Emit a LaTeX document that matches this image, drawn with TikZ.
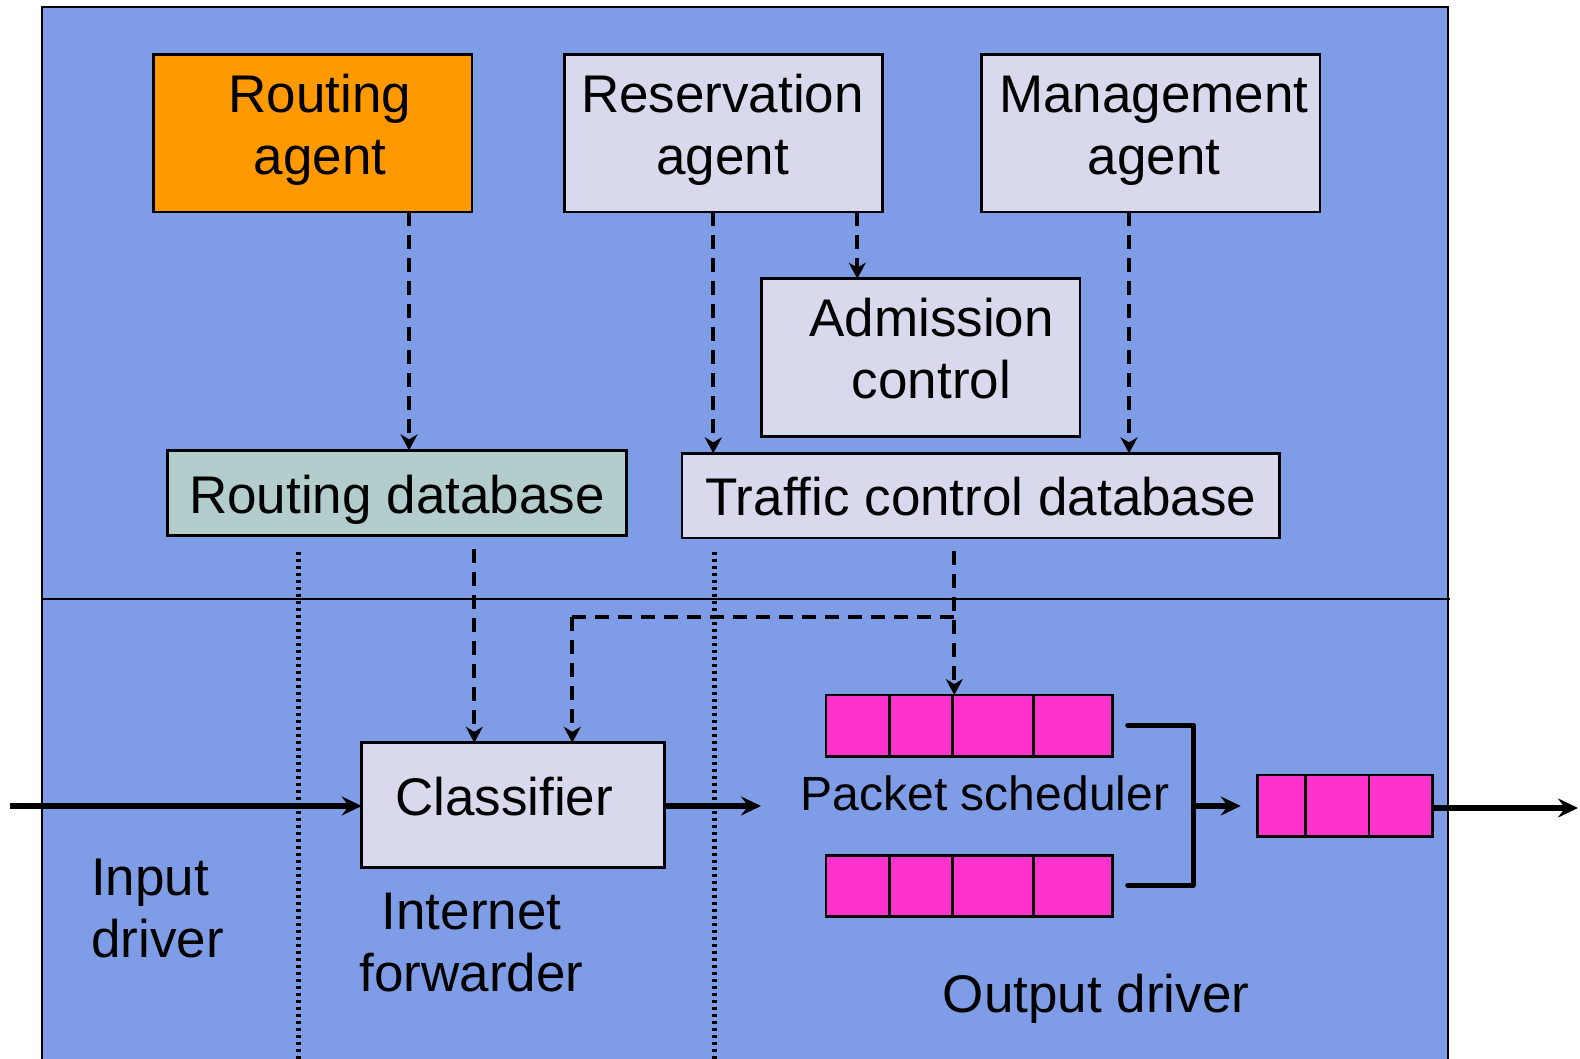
\documentclass[tikz,border=0pt]{standalone}
\usepackage{fontspec}
\setmainfont{Liberation Sans}
\usetikzlibrary{arrows.meta}
\definecolor{bgblue}{RGB}{127,157,230}
\definecolor{lightbox}{RGB}{217,217,237}
\definecolor{rdbfill}{RGB}{179,204,204}
\definecolor{orangefill}{RGB}{255,153,0}
\definecolor{magentafill}{RGB}{255,51,204}
\tikzset{
  blk/.style={draw=black, line width=2.6pt, inner sep=0pt, outer sep=0pt},
  cell/.style={blk, fill=magentafill},
  lbl/.style={font=\fontsize{53pt}{62pt}\selectfont, align=center, inner sep=0pt, anchor=base},
  lblleft/.style={lbl, align=left, anchor=base west},
  dasharrow/.style={line width=4pt, dash pattern=on 14pt off 9pt, -{Stealth[length=16pt,width=17pt,inset=5pt]}},
  dashln/.style={line width=4pt, dash pattern=on 14pt off 9pt},
  dotln/.style={line width=4.5pt, dash pattern=on 3.5pt off 3.5pt},
  mainarrow/.style={line width=6pt, -{Stealth[length=20pt,width=19pt,inset=7pt]}},
  brk/.style={line width=5pt, line cap=round, line join=round}
}
\begin{document}
\begin{tikzpicture}[x=1pt,y=-1pt]
\useasboundingbox (0,0) rectangle (1580,1059);
% background panel
\draw[line width=2.4pt, fill=bgblue] (42,7) rectangle (1448,1075);
\draw[line width=2.4pt] (42,599) -- (1450,599);

% boxes
\node[blk, fill=orangefill, minimum width=318.3pt, minimum height=157.7pt] (ra) at (312.85,133.15) {};
\node[blk, fill=lightbox, minimum width=318pt, minimum height=157.7pt] (resa) at (723.3,133.15) {};
\node[blk, fill=lightbox, minimum width=338.3pt, minimum height=157.7pt] (ma) at (1150.9,133.15) {};
\node[blk, fill=lightbox, minimum width=318.3pt, minimum height=157.6pt] (ac) at (920.85,357.5) {};
\node[blk, fill=rdbfill, minimum width=459.4pt, minimum height=84.9pt] (rdb) at (397,492.85) {};
\node[blk, fill=lightbox, minimum width=597.7pt, minimum height=84.7pt] (tdb) at (980.9,495.7) {};
\node[blk, fill=lightbox, minimum width=302.6pt, minimum height=124.9pt] (cls) at (513,805.2) {};

% queues
\node[cell, minimum width=286.3pt, minimum height=61.3pt] (q1) at (969.15,725.65) {};
\node[cell, minimum width=286.3pt, minimum height=61.3pt] (q2) at (969.15,885.85) {};
\node[cell, minimum width=174.6pt, minimum height=61.3pt] (q3) at (1345,805.65) {};
\foreach \xx in {889.3,952.7,1033.3}{
  \draw[line width=2.6pt] (\xx,0 |- q1.north) -- (\xx,0 |- q1.south);
  \draw[line width=2.6pt] (\xx,0 |- q2.north) -- (\xx,0 |- q2.south);
}
\foreach \xx in {1305.3,1369}{
  \draw[line width=2.6pt] (\xx,0 |- q3.north) -- (\xx,0 |- q3.south);
}

% labels (base anchor = baseline of the last line)
\node[lbl] (tra) at (320,175) {Routing\\agent};
\node[lbl] (tresa) at (722.5,175) {Reservation\\agent};
\node[lbl] (tma) at (1154,175) {Management\\agent};
\node[lbl] (tac) at (931.5,398) {Admission\\control};
\node[lbl] (trdb) at (397,513) {Routing database};
\node[lbl] (ttdb) at (981,515) {Traffic control database};
\node[lbl] (tcls) at (504,815) {Classifier};
\node[lbl, font=\fontsize{48pt}{56pt}\selectfont] (tps) at (985,810) {Packet scheduler};
\node[lblleft] (tin) at (91,957) {Input\\driver};
\node[lbl] (tif) at (471.6,991.7) {Internet\\forwarder};
\node[lbl] (tod) at (1096,1012) {Output driver};

% x reference coordinates
\coordinate (xra) at (409,0);
\coordinate (xrt) at (713.3,0);
\coordinate (xrac) at (857.3,0);
\coordinate (xma) at (1129,0);
\coordinate (xrdb) at (474.3,0);
\coordinate (xtdb) at (954.3,0);
\coordinate (xbr) at (572.3,0);

% dashed control arrows
\draw[dasharrow] (ra.south -| xra) -- (rdb.north -| xra);
\draw[dasharrow] (resa.south -| xrt) -- (tdb.north -| xrt);
\draw[dasharrow] (resa.south -| xrac) -- (ac.north -| xrac);
\draw[dasharrow] (ma.south -| xma) -- (tdb.north -| xma);
\draw[dasharrow, shorten <=14pt] (rdb.south -| xrdb) -- (cls.north -| xrdb);
\draw[dasharrow, shorten <=13pt] (tdb.south -| xtdb) -- (q1.north -| xtdb);
\coordinate (brA) at (954.3,617);
\coordinate (brB) at (572.3,617);
\draw[dashln] (brA) -- (brB);
\draw[dasharrow] (brB) -- (cls.north -| xbr);

% dotted separators
\coordinate (d1t) at (298.3,551.7);
\coordinate (d1b) at (298.3,1070);
\coordinate (d2t) at (714.3,551.7);
\coordinate (d2b) at (714.3,1070);
\draw[dotln] (d1t) -- (d1b);
\draw[dotln] (d2t) -- (d2b);

% main data path
\coordinate (inp) at (10,806);
\draw[mainarrow] (inp) -- (cls.west |- inp);
\coordinate (clsout) at (761,806);
\draw[mainarrow] (cls.east |- clsout) -- (clsout);
\coordinate (bkTa) at (1127.7,725);
\coordinate (bkTb) at (1193.3,725);
\coordinate (bkBb) at (1193.3,885);
\coordinate (bkBa) at (1127.7,885);
\draw[brk] (bkTa) -- (bkTb) -- (bkBb) -- (bkBa);
\coordinate (bkM) at (1193.3,806);
\draw[mainarrow, shorten >=17pt] (bkM) -- (q3.west |- bkM);
\coordinate (outp) at (1578,808);
\draw[mainarrow] (q3.east |- outp) -- (outp);
\end{tikzpicture}
\end{document}
